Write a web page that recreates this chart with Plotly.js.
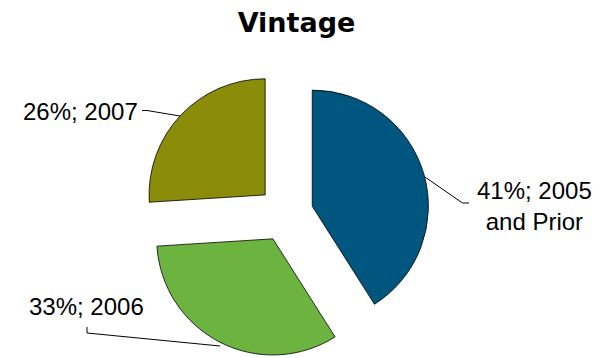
<!DOCTYPE html>
<html>
<head>
<meta charset="utf-8">
<script src="https://cdn.plot.ly/plotly-3.0.1.min.js"></script>
<style>html,body{margin:0;padding:0;background:#fff;}#chart{width:603px;height:358px;}</style>
</head>
<body>
<div id="chart"></div>
<script>
const categories = ['2005 and Prior', '2006', '2007'];
const values = [41, 33, 26];
const colors = ['#00567E', '#6DB33F', '#8A8C0A'];

const W = 603, H = 358;
const px = x => x / W;
const py = y => 1 - y / H;

// label text built from data
const labelTexts = categories.map((c, i) => {
  const t = values[i] + '%; ' + c;
  return t.replace(' and ', '<br>and ');
});

// label placement (pixels) and leader line paths (pixels), in category order
const labelPos = [[534.5, 206], [86.5, 306], [80, 111.5]];
const leaders = [
  [[425, 177], [462.5, 203], [469, 203]],
  [[220, 346], [87, 333], [87, 327]],
  [[180, 116], [147, 110.5], [142, 110.5]]
];

const annotations = labelTexts.map((t, i) => ({
  text: t,
  x: px(labelPos[i][0]), y: py(labelPos[i][1]),
  xref: 'paper', yref: 'paper',
  xanchor: 'center', yanchor: 'middle',
  showarrow: false,
  align: 'center',
  font: {family: 'Liberation Sans, Arial, sans-serif', size: 24, color: '#000'}
}));

const shapes = leaders.map(pts => ({
  type: 'path',
  xref: 'paper', yref: 'paper',
  path: pts.map((p, k) => (k ? 'L ' : 'M ') + px(p[0]) + ',' + py(p[1])).join(' '),
  line: {color: '#000', width: 1}
}));

const trace = {
  type: 'pie',
  labels: categories,
  values: values,
  sort: false,
  direction: 'clockwise',
  rotation: 0,
  pull: [0.24, 0.24, 0.24],
  marker: {colors: colors, line: {color: '#000', width: 0.8}},
  textinfo: 'none',
  hoverinfo: 'label+percent',
  showlegend: false,
  domain: {x: [px(285.5 - 144), px(285.5 + 144)], y: [0, py(70)]}
};

const layout = {
  width: W, height: H,
  margin: {l: 0, r: 0, t: 0, b: 0},
  paper_bgcolor: '#fff',
  plot_bgcolor: '#fff',
  showlegend: false,
  title: {
    text: '<b>Vintage</b>',
    x: px(296.5), xref: 'paper', xanchor: 'center',
    y: py(23), yref: 'paper', yanchor: 'middle',
    font: {family: 'DejaVu Sans, sans-serif', size: 27, color: '#000'}
  },
  annotations: annotations,
  shapes: shapes
};

Plotly.newPlot('chart', [trace], layout, {displayModeBar: false, staticPlot: true});
</script>
</body>
</html>
